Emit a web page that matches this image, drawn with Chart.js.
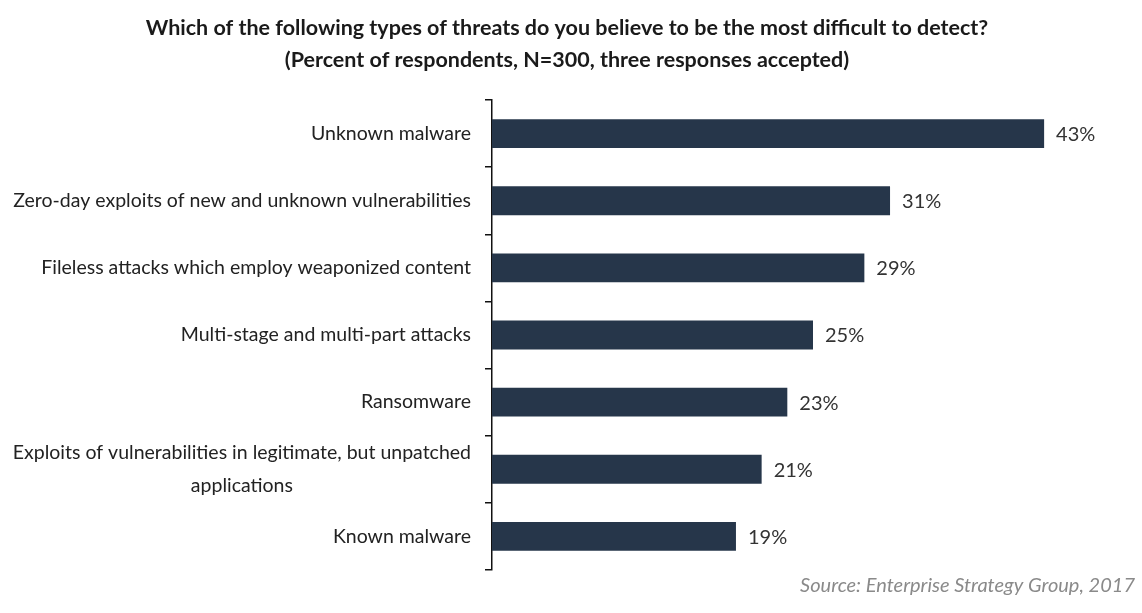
<!DOCTYPE html>
<html>
<head>
<meta charset="utf-8">
<script src="https://cdn.jsdelivr.net/npm/chart.js@4.4.1/dist/chart.umd.min.js"></script>
<style>
html,body{margin:0;padding:0;background:#fff}
#wrap{width:1142px;height:613px}
</style>
</head>
<body>
<div id="wrap"><canvas id="threatChart"></canvas></div>
<script>
const categories=[
["Unknown malware"],
["Zero-day exploits of new and unknown vulnerabilities"],
["Fileless attacks which employ weaponized content"],
["Multi-stage and multi-part attacks"],
["Ransomware"],
["Exploits of vulnerabilities in legitimate, but unpatched","applications"],
["Known malware"]
]
const percents=[43,31,29,25,23,21,19]
const titleLines=["Which of the following types of threats do you believe to be the most difficult to detect?","(Percent of respondents, N=300, three responses accepted)"]
const sourceText="Source: Enterprise Strategy Group, 2017"

const FONT="Lato, 'Open Sans', sans-serif"
const BAR_COLOR="#26364a"

// category labels + value labels + source line
const textPlugin={
id:"textPlugin",
afterDraw(chart){
const ctx=chart.ctx
const y=chart.scales.y
const area=chart.chartArea
ctx.save()
ctx.font="19.5px "+FONT
ctx.fillStyle="#222"
ctx.textBaseline="middle"
categories.forEach((lines,i)=>{
let cy=y.getPixelForValue(i)
let maxW=Math.max(...lines.map(l=>ctx.measureText(l).width))
let cx=area.left-21-maxW/2
ctx.textAlign="center"
let lh=33
lines.forEach((l,j)=>{
ctx.fillText(l,cx,cy+(j-(lines.length-1)/2)*lh)
})
})
// values
const meta=chart.getDatasetMeta(0)
ctx.font="20px "+FONT
ctx.textAlign="left"
ctx.fillStyle="#333"
meta.data.forEach((bar,i)=>{
ctx.fillText(percents[i]+"%",bar.x+12,bar.y+1)
})
// source
ctx.font="italic 20px "+FONT
ctx.fillStyle="#8a8a8a"
ctx.textAlign="right"
ctx.fillText(sourceText,1135,586)
ctx.restore()
}
}

new Chart(
document.getElementById("threatChart"),
{
type:"bar",
data:{
labels:categories,
datasets:[{
data:percents,
backgroundColor:BAR_COLOR,
barPercentage:0.43,
categoryPercentage:1
}]
},
options:{
indexAxis:"y",
responsive:true,
maintainAspectRatio:false,
animation:false,
layout:{padding:{left:0,right:8,top:0,bottom:43}},
plugins:{
legend:{display:false},
tooltip:{enabled:false},
title:{
display:true,
text:titleLines,
color:"#1a1a1a",
font:{family:FONT,size:21.5,weight:"bold",lineHeight:1.49},
padding:{top:12,bottom:24}
}
},
scales:{
x:{display:false,min:0,max:50},
y:{
ticks:{display:false},
grid:{offset:true,drawOnChartArea:false,drawTicks:true,tickLength:7,color:"#111",lineWidth:1.5},
border:{display:true,color:"#111",width:1.5},
afterFit(s){s.width=492}
}
}
},
plugins:[textPlugin]
})
</script>
</body>
</html>
